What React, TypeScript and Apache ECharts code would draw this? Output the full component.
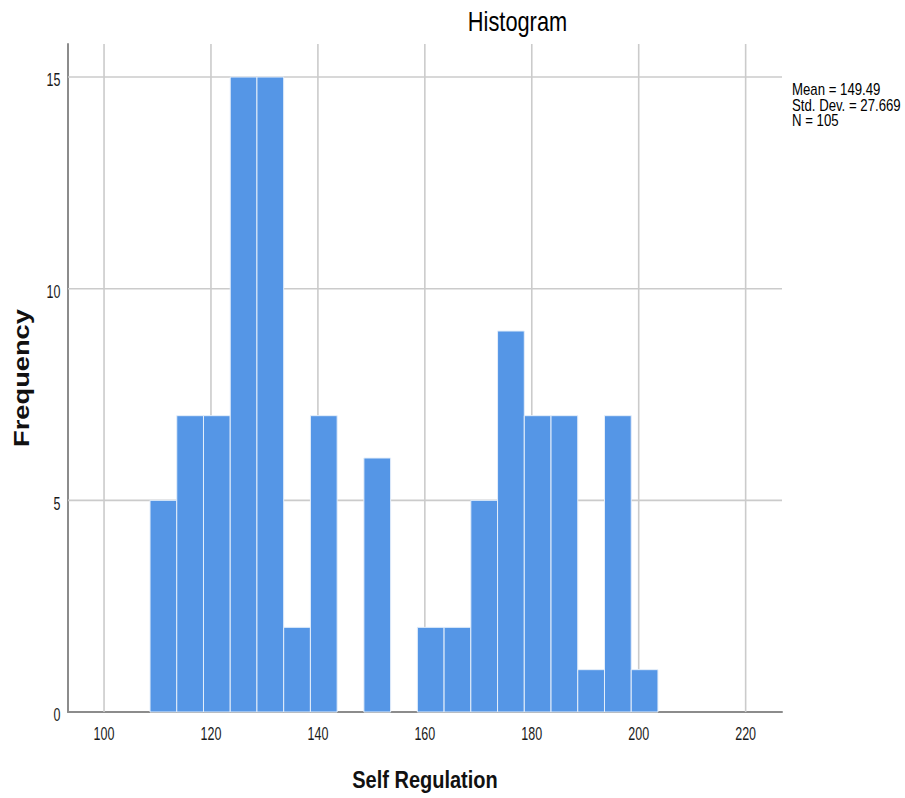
import React, { useEffect, useRef } from "react";
import * as echarts from "echarts";

const binStarts = [108.6, 113.6, 118.6, 123.6, 128.6, 133.6, 138.6, 143.6, 148.6, 153.6, 158.6, 163.6, 168.6, 173.6, 178.6, 183.6, 188.6, 193.6, 198.6];
const binWidth = 5;
const counts = [5, 7, 7, 15, 15, 2, 7, 0, 6, 0, 2, 2, 5, 9, 7, 7, 1, 7, 1];
const statsLines = ["Mean = 149.49", "Std. Dev. = 27.669", "N = 105"];
const xTicks = [100, 120, 140, 160, 180, 200, 220];
const yTicks = [0, 5, 10, 15];

const X_MIN = 93.26;
const X_MAX = 226.8;
const Y_MAX = 15.78;
const FONT = "Liberation Sans, Arial, sans-serif";

export default function App() {
  const ref = useRef<HTMLDivElement>(null);
  useEffect(() => {
    const chart = echarts.init(ref.current!, null, { renderer: "svg" });
    const data = binStarts.map((s, i) => [s, s + binWidth, counts[i]]);
    chart.setOption({
      animation: false,
      backgroundColor: "#ffffff",
      grid: { left: 68, right: 123, top: 44, bottom: 86 },
      xAxis: {
        type: "value",
        min: X_MIN,
        max: X_MAX,
        axisLine: { show: true, onZero: false, lineStyle: { color: "#8c8c8c", width: 2 } },
        axisTick: { show: false },
        axisLabel: { show: false },
        splitLine: { show: false },
      },
      yAxis: {
        type: "value",
        min: 0,
        max: Y_MAX,
        axisLine: { show: true, lineStyle: { color: "#8c8c8c", width: 2 } },
        axisTick: { show: false },
        axisLabel: { show: false },
        splitLine: { show: false },
      },
      series: [
        {
          type: "custom",
          silent: true,
          z: 1,
          renderItem: (params: any, api: any) => {
            if (params.dataIndex !== 0) return null;
            const children: any[] = [];
            xTicks.forEach((t) => {
              const top = api.coord([t, Y_MAX]);
              const bot = api.coord([t, 0]);
              children.push({
                type: "line",
                shape: { x1: top[0], y1: top[1], x2: bot[0], y2: bot[1] },
                style: { stroke: "#cbcbcb", lineWidth: 1.6 },
              });
              children.push({
                type: "text",
                x: bot[0],
                y: bot[1] + 21.5,
                scaleY: 1.4,
                style: { text: String(t), fontFamily: FONT, fontSize: 12.5, fill: "#1a1a1a", align: "center", verticalAlign: "middle" },
              });
            });
            yTicks.forEach((t) => {
              const l = api.coord([X_MIN, t]);
              const r = api.coord([X_MAX, t]);
              if (t > 0) {
                children.push({
                  type: "line",
                  shape: { x1: l[0], y1: l[1], x2: r[0], y2: r[1] },
                  style: { stroke: "#cbcbcb", lineWidth: 1.6 },
                });
              }
              children.push({
                type: "text",
                x: l[0] - 7.5,
                y: l[1] + 3,
                scaleY: 1.4,
                style: { text: String(t), fontFamily: FONT, fontSize: 12.5, fill: "#1a1a1a", align: "right", verticalAlign: "middle" },
              });
            });
            return { type: "group", children };
          },
          data: [0],
        },
        {
          type: "custom",
          z: 3,
          renderItem: (params: any, api: any) => {
            const x0 = api.value(0);
            const x1 = api.value(1);
            const y = api.value(2);
            if (!y) return null;
            const p0 = api.coord([x0, y]);
            const p1 = api.coord([x1, 0]);
            return {
              type: "rect",
              shape: { x: p0[0], y: p0[1], width: p1[0] - p0[0], height: p1[1] - p0[1] },
              style: { fill: "#5596e6", stroke: "#e4eefa", lineWidth: 1 },
            };
          },
          encode: { x: [0, 1], y: 2 },
          data,
        },
      ],
      graphic: [
        {
          type: "text",
          x: 517.5,
          y: 22,
          scaleY: 1.24,
          style: { text: "Histogram", fontFamily: FONT, fontSize: 21.8, fill: "#000", align: "center", verticalAlign: "middle" },
        },
        {
          type: "text",
          x: 425,
          y: 780,
          scaleY: 1.18,
          style: { text: "Self Regulation", fontFamily: FONT, fontSize: 20, fontWeight: "bold", fill: "#111", align: "center", verticalAlign: "middle" },
        },
        {
          type: "text",
          x: 21,
          y: 378,
          rotation: Math.PI / 2,
          scaleX: 1.24,
          style: { text: "Frequency", fontFamily: FONT, fontSize: 22, fontWeight: "bold", fill: "#111", align: "center", verticalAlign: "middle" },
        },
        ...statsLines.map((t, i) => ({
          type: "text",
          x: 792,
          y: 90 + i * 15.5,
          scaleY: 1.22,
          style: { text: t, fontFamily: FONT, fontSize: 13.2, fill: "#000", align: "left", verticalAlign: "middle" },
        })),
      ],
    });
    return () => chart.dispose();
  }, []);
  return <div ref={ref} style={{ position: "fixed", left: 0, top: 0, width: 905, height: 798 }} />;
}
